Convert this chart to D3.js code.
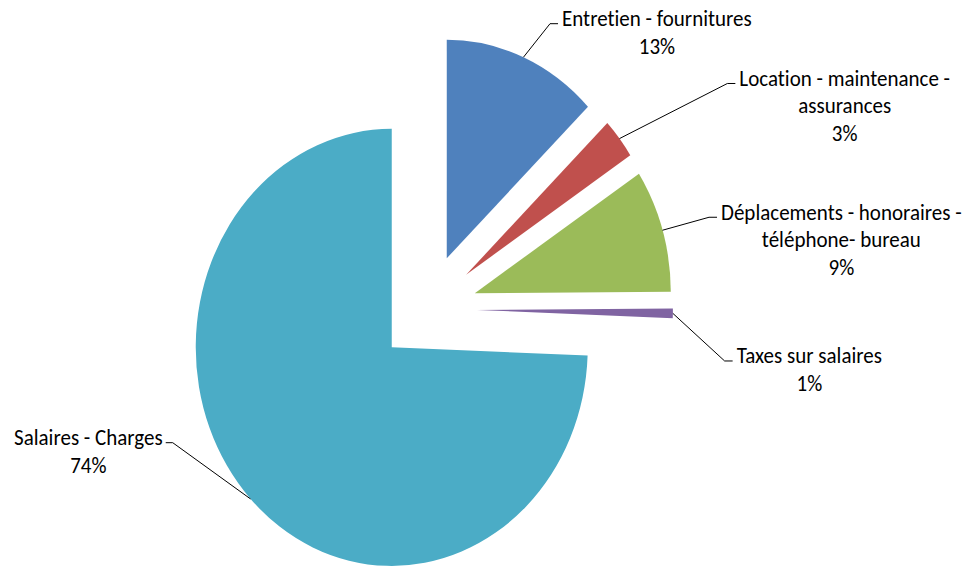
<!DOCTYPE html>
<html>
<head>
<meta charset="utf-8">
<script src="https://cdn.jsdelivr.net/npm/d3@7"></script>
<style>
  html, body { margin: 0; padding: 0; background: #ffffff; }
  svg { display: block; }
  text { font-family: Carlito, Lato, "Open Sans", sans-serif; fill: #000; font-variant-ligatures: none; }
</style>
</head>
<body>
<svg id="chart" width="974" height="569"></svg>
<script>
// ---- data ----
const categories = [
  "Entretien - fournitures",
  "Location - maintenance - assurances",
  "Déplacements - honoraires - téléphone- bureau",
  "Taxes sur salaires",
  "Salaires - Charges"
];
const labelLines = [
  ["Entretien - fournitures"],
  ["Location - maintenance -", "assurances"],
  ["Déplacements - honoraires -", "téléphone- bureau"],
  ["Taxes sur salaires"],
  ["Salaires - Charges"]
];
const values = [12.8, 3.0, 9.1, 0.7, 74.4];

// ---- style / layout ----
const colors = ["#4F81BD", "#C0504D", "#9BBB59", "#8064A2", "#4BACC6"];
const labelAngleDeg = [25.6, 56, 73.7, 98.9, 244.8];   // direction of label elbow from pie centre
const labelRadiusFactor = [1.448, 1.846, 1.497, 1.535, 1.436];

const W = 974, H = 569;
const ky = 1.115;            // vertical stretch of the original picture
const cx = 427.4, cy = 277.2; // pie centre (unstretched units)
const R = 196;
const explode = 49.5;
const fontSize = 21, lineGap = 24.7;

const svg = d3.select("#chart");
const g = svg.append("g").attr("transform", `scale(1,${ky})`);

const total = d3.sum(values);
const pct = d3.format(".0%");

const pie = d3.pie().sort(null).value(d => d).startAngle(0).endAngle(2 * Math.PI);
const arcs = pie(values);
const arc = d3.arc().innerRadius(0).outerRadius(R);

const polar = (a, r) => [r * Math.sin(a), -r * Math.cos(a)];

arcs.forEach((d, i) => {
  const mid = (d.startAngle + d.endAngle) / 2;
  const [ox, oy] = polar(mid, explode);
  g.append("path")
    .attr("d", arc(d))
    .attr("transform", `translate(${cx + ox},${cy + oy})`)
    .attr("fill", colors[i]);

  // leader line
  const [sx, sy] = polar(mid, R);
  const start = [cx + ox + sx, cy + oy + sy];
  const la = labelAngleDeg[i] * Math.PI / 180;
  const [ex, ey] = polar(la, labelRadiusFactor[i] * R);
  const elbow = [cx + ex, cy + ey];
  const right = Math.sin(la) >= 0;
  const end = [elbow[0] + (right ? 8 : -7), elbow[1]];
  g.append("path")
    .attr("d", d3.line()([start, elbow, end]))
    .attr("fill", "none")
    .attr("stroke", "#000")
    .attr("stroke-width", 1)
    .attr("vector-effect", "non-scaling-stroke");

  // label text
  const lines = labelLines[i].concat([pct(values[i] / total)]);
  const t = g.append("text")
    .attr("font-size", fontSize)
    .attr("text-anchor", "middle");
  const spans = lines.map((ln, j) =>
    t.append("tspan").attr("y", elbow[1] + 2.2 + j * lineGap).text(ln));
  const maxW = d3.max(spans, s => s.node().getComputedTextLength());
  const centerX = right ? elbow[0] + 12 + maxW / 2 : elbow[0] - 10 - maxW / 2;
  spans.forEach(s => s.attr("x", centerX));
});
</script>
</body>
</html>
